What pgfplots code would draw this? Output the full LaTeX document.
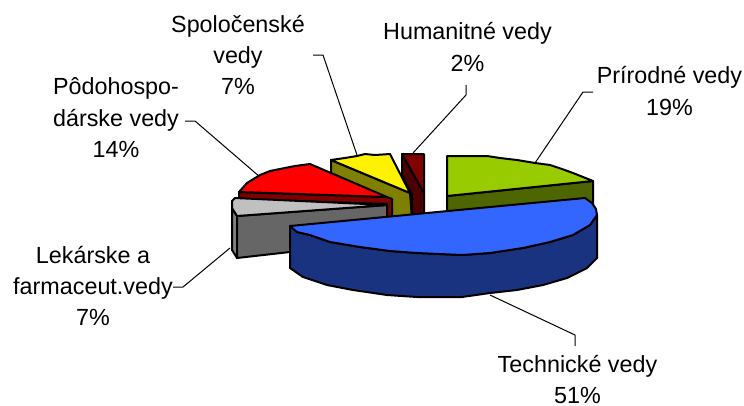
\documentclass[border=0pt]{standalone}
\usepackage{pgfplots}
\pgfplotsset{compat=1.18}
\usepackage{fontspec}
\setmainfont{Liberation Sans}
\begin{document}
\begin{tikzpicture}
\useasboundingbox (0,0) rectangle (558pt,303.75pt);
\begin{axis}[at={(0,0)},anchor=south west,scale only axis,width=558pt,height=303.75pt,xmin=0,xmax=744,ymin=0,ymax=405,y dir=reverse,axis lines=none,clip=false,
 every axis plot/.append style={line width=1.5pt,line join=round,draw=black}]
% leaders
\addplot[line width=0.75pt,draw=black] coordinates {(535,163)(583,92)(593,92)};
\addplot[line width=0.75pt,draw=black] coordinates {(413,153)(466,95)(466,85)};
\addplot[line width=0.75pt,draw=black] coordinates {(357,155)(323,55)(313,55)};
\addplot[line width=0.75pt,draw=black] coordinates {(260,177)(195,121)(185,121)};
\addplot[line width=0.75pt,draw=black] coordinates {(230,248)(183,287)(173,287)};
\addplot[line width=0.75pt,draw=black] coordinates {(490,295)(575,335)(575,346)};
% olive
\addplot[fill={rgb,255:red,128;green,128;blue,0}] coordinates {(331,160)(410,193)(412,220)(331,220)} -- cycle;
% yellow
\addplot[fill=yellow] coordinates {(331,160)(345,158)(357,156)(365,154)(375,155)(390,154)(410,193)} -- cycle;
% dark red front of red
\addplot[fill={rgb,255:red,128;green,0;blue,0}] coordinates {(239,192)(387,197)(392,199)(392,222)(387,222)(387,204)(239,199)} -- cycle;
% red
\addplot[fill=red] coordinates {(239,192)(247,183)(260,175)(270,171)(280,169)(295,166)(310,164)(387,197)} -- cycle;
% gray
\addplot[fill={rgb,255:red,128;green,128;blue,128}] coordinates {(232,208)(237,216)(237,258)(232,250)} -- cycle;
\addplot[fill={rgb,255:red,102;green,102;blue,102}] coordinates {(237,216)(387,205)(387,241)(237,258)} -- cycle;
\addplot[fill={rgb,255:red,192;green,192;blue,192}] coordinates {(232,208)(232,201)(235,198)(387,205)(237,216)} -- cycle;
% dark red slice
\addplot[fill={rgb,255:red,77;green,0;blue,0}] coordinates {(402,154)(424,193)(424,222)(412,222)(412,195)(402,175)} -- cycle;
\addplot[fill={rgb,255:red,128;green,0;blue,0}] coordinates {(402,154)(424,154)(424,193)} -- cycle;
% green
\addplot[fill={rgb,255:red,77;green,102;blue,0}] coordinates {(447,196)(593,181)(593,205)(447,220)} -- cycle;
\addplot[fill={rgb,255:red,153;green,204;blue,0}] coordinates {(447,156)(487,156)(500,158)(517,160)(535,163)(550,165)(562,169)(573,173)(593,181)(447,196)} -- cycle;
% blue
\addplot[fill={rgb,255:red,26;green,51;blue,128}] coordinates {(290,226)(297,232)(310,235)(330,242)(360,247)(390,251)(417,253)(462,255)(490,253)(523,248)(550,242)(573,235)(590,225)(597,215)(597,258)(587,268)(567,278)(543,285)(517,290)(490,293)(462,297)(417,297)(387,295)(353,290)(327,285)(303,277)(290,268)} -- cycle;
\addplot[fill={rgb,255:red,51;green,102;blue,255}] coordinates {(290,226)(585,198)(592,203)(596,209)(597,215)(590,225)(573,235)(550,242)(523,248)(490,253)(462,255)(417,253)(390,251)(360,247)(330,242)(310,235)(297,232)} -- cycle;
% labels
\node[align=center,font=\fontsize{17.5pt}{23.6pt}\selectfont] at (axis cs:669.5,91) {Prírodné vedy\\19\%};
\node[align=center,font=\fontsize{17.5pt}{23.6pt}\selectfont] at (axis cs:467.5,47) {Humanitné vedy\\2\%};
\node[align=center,font=\fontsize{17.5pt}{23.6pt}\selectfont] at (axis cs:238,55) {Spoločenské\\vedy\\7\%};
\node[align=center,font=\fontsize{17.5pt}{23.6pt}\selectfont] at (axis cs:116,118) {Pôdohospo-\\dárske vedy\\14\%};
\node[align=center,font=\fontsize{17.5pt}{23.6pt}\selectfont] at (axis cs:93,286) {Lekárske a\\farmaceut.vedy\\7\%};
\node[align=center,font=\fontsize{17.5pt}{23.6pt}\selectfont] at (axis cs:577.5,379.5) {Technické vedy\\51\%};
\end{axis}
\end{tikzpicture}
\end{document}
